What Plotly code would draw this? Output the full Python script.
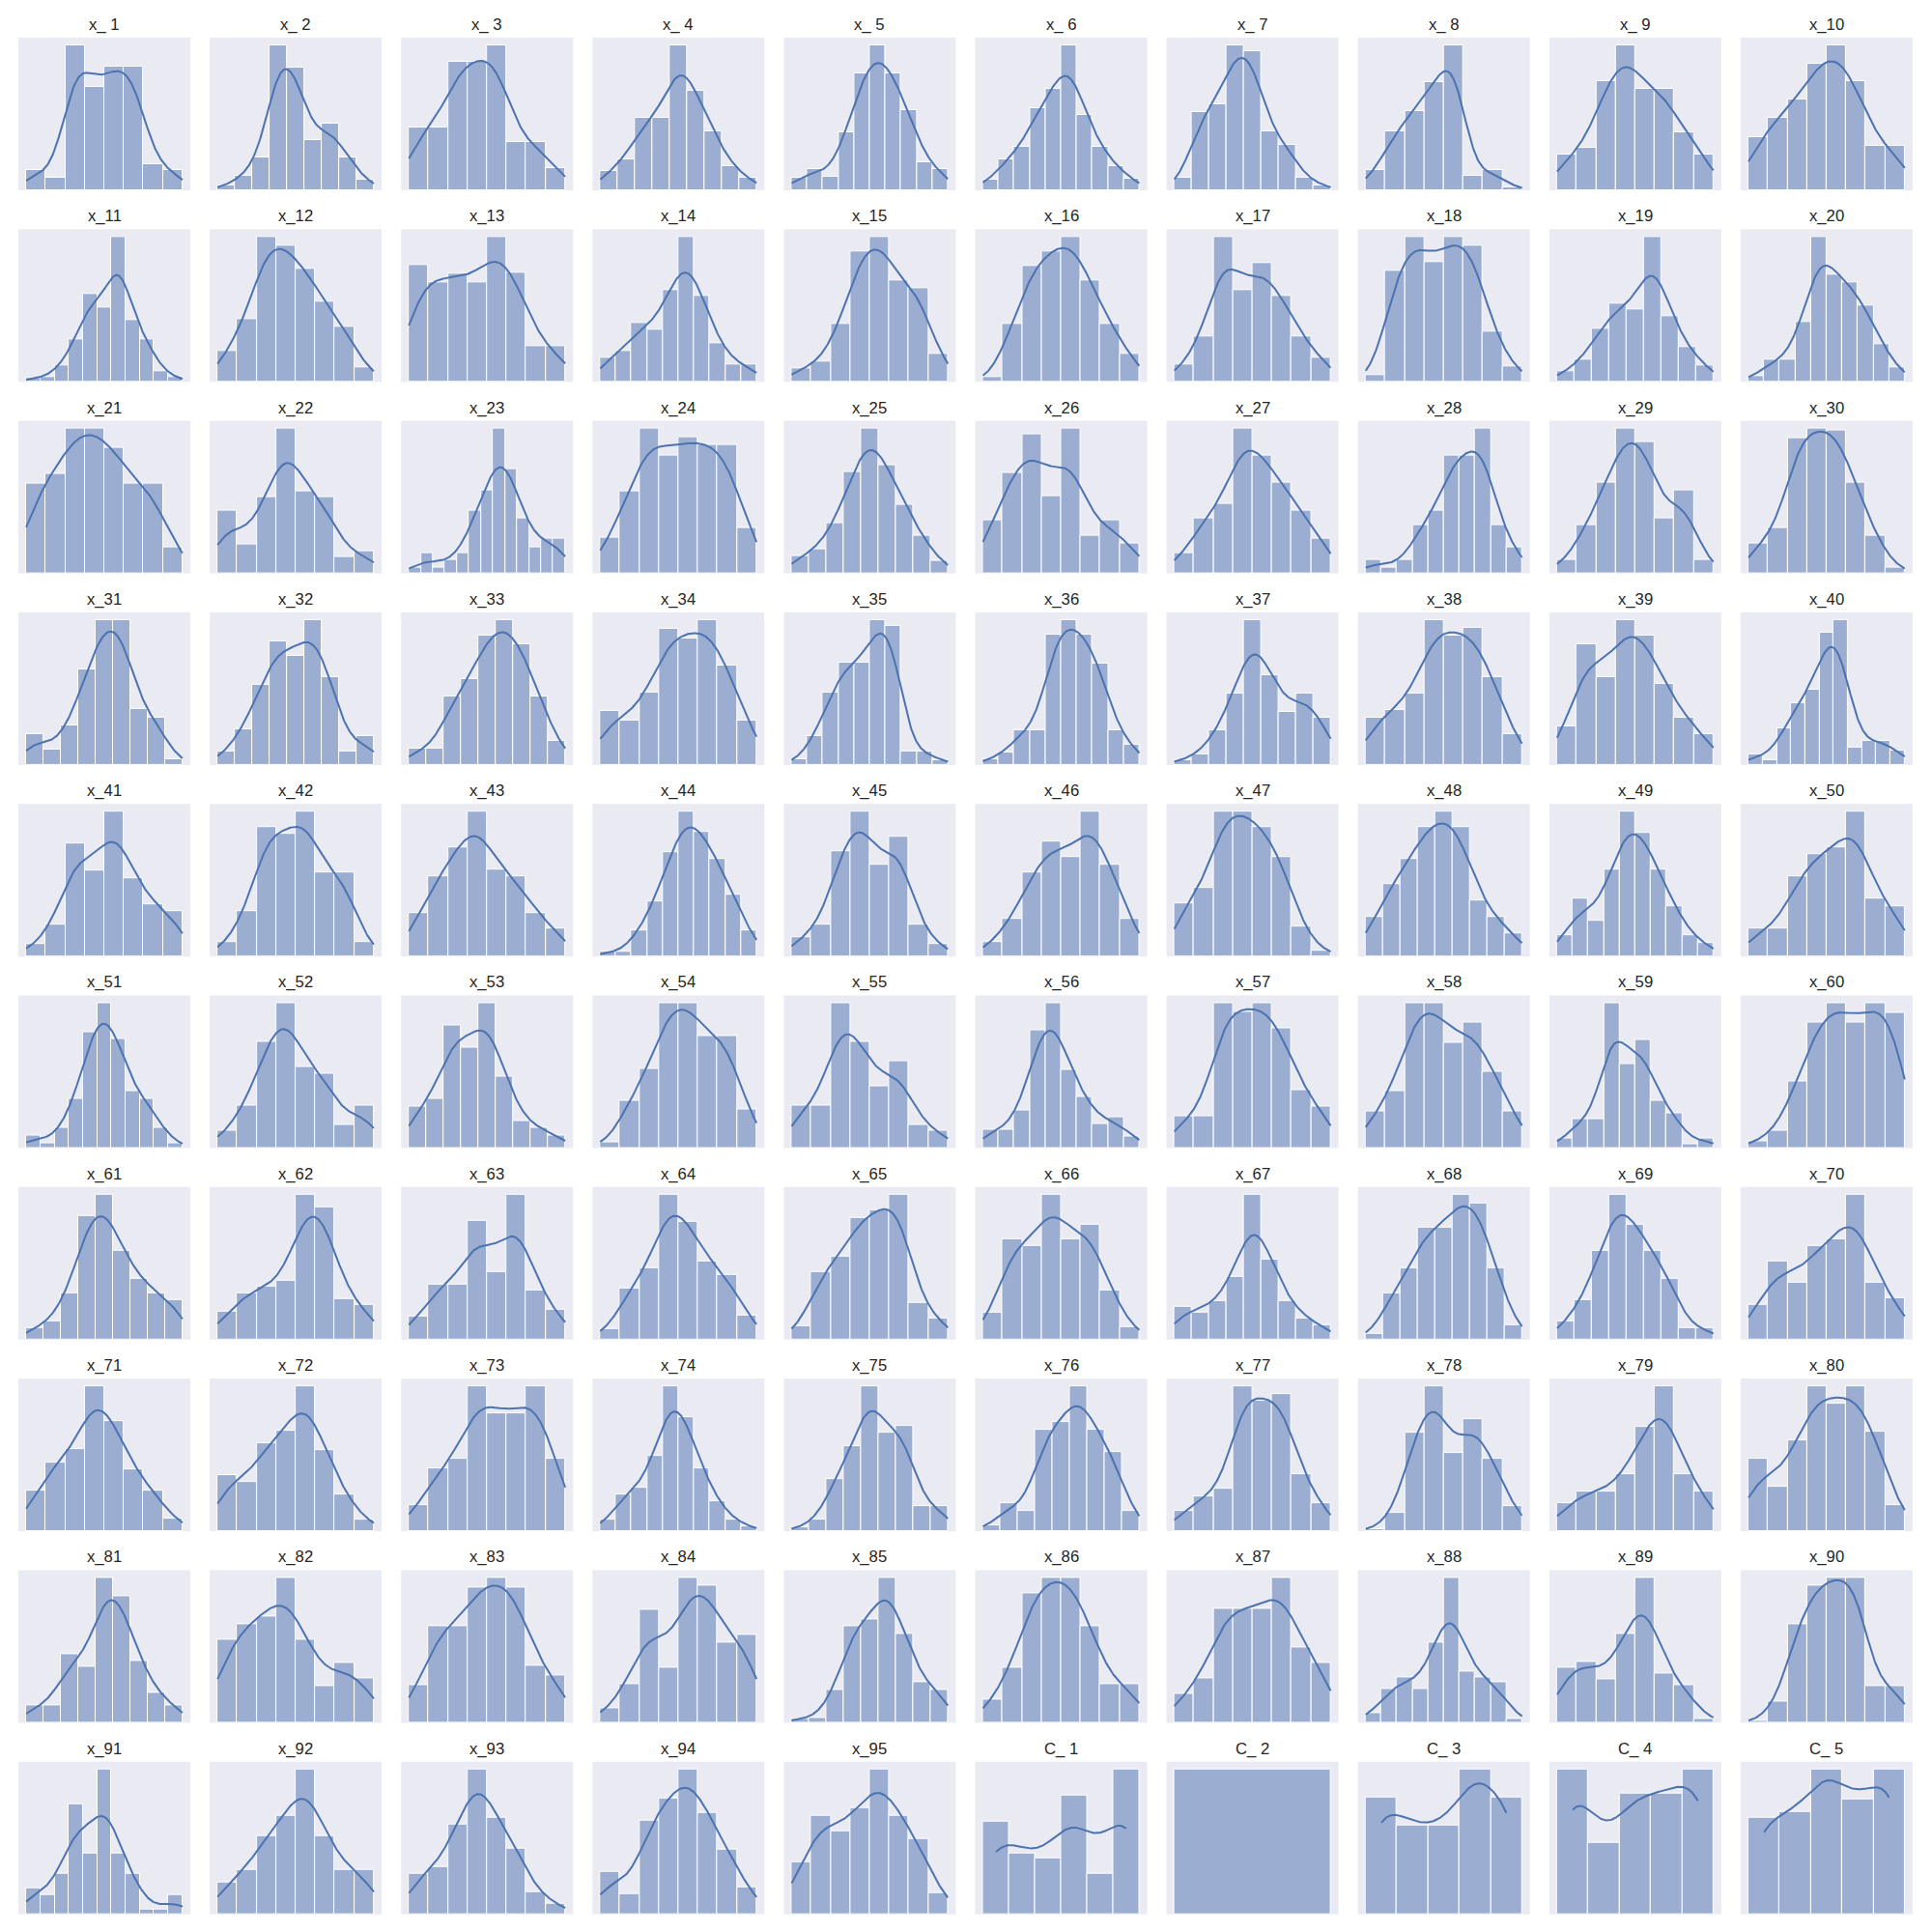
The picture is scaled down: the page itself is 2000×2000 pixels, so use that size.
import math
import numpy as np
import plotly.graph_objects as go

# ---- bar heights (relative counts per bin) ----
x_1 = [62, 38, 452, 322, 386, 386, 82, 62]
x_2 = [14, 46, 101, 452, 382, 155, 206, 101, 32]
x_3 = [196, 196, 400, 400, 452, 149, 149, 70]
x_4 = [59, 97, 224, 224, 452, 308, 182, 76, 38]
x_5 = [40, 65, 41, 179, 362, 452, 362, 248, 86, 65]
x_6 = [34, 95, 134, 254, 314, 452, 233, 134, 75, 35]
x_7 = [38, 244, 266, 452, 432, 182, 141, 38, 16]
x_8 = [62, 182, 247, 335, 452, 46, 62, 10]
x_9 = [110, 132, 338, 452, 314, 314, 179, 110]
x_10 = [166, 224, 281, 395, 452, 338, 137, 137]
x_11 = [12, 14, 52, 132, 272, 232, 452, 192, 132, 34, 14]
x_12 = [95, 196, 452, 424, 350, 248, 172, 46]
x_13 = [364, 308, 336, 308, 452, 338, 110, 110]
x_14 = [76, 97, 182, 162, 284, 452, 266, 119, 55, 55]
x_15 = [41, 62, 179, 407, 452, 314, 292, 86]
x_16 = [16, 179, 359, 407, 452, 314, 179, 86]
x_17 = [55, 140, 452, 284, 368, 266, 140, 76]
x_18 = [22, 344, 452, 372, 452, 424, 155, 49]
x_19 = [32, 70, 166, 242, 224, 452, 203, 107, 52]
x_20 = [19, 68, 68, 187, 452, 332, 308, 236, 116, 44]
x_21 = [278, 308, 452, 452, 392, 278, 278, 82]
x_22 = [196, 89, 236, 452, 254, 236, 52, 70]
x_23 = [19, 62, 19, 41, 62, 194, 257, 452, 324, 170, 82, 107, 107]
x_24 = [110, 254, 452, 367, 424, 399, 399, 140]
x_25 = [55, 76, 155, 314, 452, 335, 214, 116, 38]
x_26 = [164, 312, 432, 240, 452, 116, 164, 92]
x_27 = [62, 170, 216, 452, 367, 281, 194, 107]
x_28 = [41, 19, 41, 149, 194, 367, 367, 452, 149, 82]
x_29 = [41, 149, 281, 452, 410, 170, 257, 41]
x_30 = [92, 140, 422, 452, 446, 281, 116, 19]
x_31 = [95, 46, 122, 292, 444, 444, 170, 146, 19]
x_32 = [41, 110, 248, 386, 338, 452, 272, 41, 89]
x_33 = [50, 50, 212, 266, 402, 452, 374, 212, 76]
x_34 = [166, 137, 224, 422, 392, 449, 308, 137]
x_35 = [19, 89, 224, 317, 317, 452, 432, 41, 41, 16]
x_36 = [19, 40, 109, 109, 406, 451, 406, 316, 109, 64]
x_37 = [16, 33, 109, 223, 451, 280, 166, 223, 148]
x_38 = [148, 172, 223, 451, 403, 427, 274, 96]
x_39 = [120, 376, 274, 451, 403, 251, 148, 96]
x_40 = [34, 16, 114, 193, 235, 412, 451, 55, 76, 76, 45]
x_41 = [38, 100, 350, 266, 452, 244, 161, 140]
x_42 = [44, 140, 404, 380, 452, 260, 260, 44]
x_43 = [134, 248, 338, 452, 269, 248, 134, 86]
x_44 = [14, 14, 82, 170, 324, 452, 389, 302, 191, 82]
x_45 = [59, 100, 328, 452, 286, 371, 100, 38]
x_46 = [44, 116, 260, 356, 308, 452, 284, 116]
x_47 = [164, 212, 452, 452, 404, 308, 92, 19]
x_48 = [122, 224, 302, 402, 452, 402, 173, 122, 71]
x_49 = [65, 180, 110, 269, 452, 384, 269, 155, 65, 41]
x_50 = [86, 86, 248, 317, 338, 452, 179, 155]
x_51 = [40, 16, 64, 153, 361, 451, 338, 178, 153, 64, 16]
x_52 = [55, 133, 331, 451, 253, 232, 73, 133]
x_53 = [130, 154, 382, 313, 451, 223, 85, 64, 40]
x_54 = [18, 148, 247, 451, 451, 349, 349, 121]
x_55 = [133, 133, 451, 331, 193, 271, 73, 55]
x_56 = [58, 58, 118, 367, 451, 244, 160, 76, 97, 37]
x_57 = [97, 97, 436, 409, 436, 358, 175, 124]
x_58 = [115, 178, 451, 451, 328, 391, 238, 115]
x_59 = [31, 91, 91, 451, 262, 337, 148, 109, 13, 31]
x_60 = [22, 55, 205, 388, 448, 388, 448, 418]
x_61 = [37, 58, 145, 385, 451, 277, 190, 145, 124]
x_62 = [88, 145, 166, 184, 451, 412, 127, 109]
x_63 = [73, 172, 172, 370, 211, 451, 154, 94]
x_64 = [34, 160, 223, 451, 367, 244, 202, 76]
x_65 = [43, 211, 259, 379, 403, 451, 115, 67]
x_66 = [85, 313, 292, 451, 313, 358, 154, 40]
x_67 = [103, 85, 121, 196, 451, 250, 121, 67, 46]
x_68 = [19, 145, 223, 349, 349, 451, 424, 223, 46]
x_69 = [58, 124, 277, 451, 358, 277, 190, 37, 37]
x_70 = [109, 244, 178, 292, 313, 451, 178, 130]
x_71 = [126, 213, 255, 453, 342, 192, 126, 39]
x_72 = [174, 153, 273, 312, 453, 252, 114, 36]
x_73 = [81, 195, 225, 453, 366, 366, 453, 225]
x_74 = [36, 114, 135, 234, 453, 354, 195, 93, 36, 15]
x_75 = [12, 36, 162, 264, 453, 306, 327, 78, 78]
x_76 = [18, 87, 63, 315, 339, 453, 315, 246, 63]
x_77 = [63, 108, 132, 453, 405, 429, 177, 87]
x_78 = [7, 57, 306, 453, 243, 348, 225, 78]
x_79 = [87, 123, 123, 177, 324, 453, 177, 123]
x_80 = [225, 138, 282, 453, 396, 453, 309, 81]
x_81 = [55, 55, 214, 175, 451, 394, 193, 94, 55]
x_82 = [259, 307, 331, 451, 259, 115, 187, 139]
x_83 = [118, 301, 301, 421, 451, 421, 178, 148]
x_84 = [46, 121, 352, 172, 451, 427, 250, 274]
x_85 = [13, 16, 103, 301, 322, 451, 277, 127, 103]
x_86 = [73, 172, 403, 451, 451, 301, 121, 121]
x_87 = [91, 139, 355, 355, 355, 451, 235, 187]
x_88 = [31, 106, 142, 106, 250, 451, 160, 142, 125, 13]
x_89 = [172, 190, 136, 277, 451, 154, 118, 13]
x_90 = [7, 67, 307, 427, 451, 451, 115, 115]
x_91 = [82, 61, 127, 343, 190, 451, 190, 127, 16, 16, 61]
x_92 = [100, 139, 244, 307, 451, 244, 139, 139]
x_93 = [127, 148, 280, 451, 301, 205, 70, 34]
x_94 = [133, 64, 292, 361, 451, 316, 202, 85]
x_95 = [163, 307, 259, 331, 451, 307, 235, 67]
C_1 = [289, 190, 175, 370, 127, 451]
C_2 = [451]
C_3 = [364, 277, 277, 451, 364]
C_4 = [451, 223, 376, 376, 451]
C_5 = [301, 319, 451, 358, 451]

x_names = [f"x_{i}" for i in range(1, 96)]
c_names = [f"C_{i}" for i in range(1, 6)]
titles = [f"x_{i:2d}" for i in range(1, 96)] + [f"C_{i:2d}" for i in range(1, 6)]
series = [globals()[n] for n in x_names + c_names]
discrete = [False] * 95 + [True] * 5

N_SAMPLES = 70
BAR_FILL = "rgba(76,114,176,0.5)"
LINE_COLOR = "#4C72B0"
BG = "#EAEAF2"

_erf = np.vectorize(math.erf)


def Phi(z):
    return 0.5 * (1.0 + _erf(z / math.sqrt(2.0)))


def kde_binned(weights, n_pts=220):
    """Gaussian KDE of a histogram (uniform mass inside each unit-width bin)."""
    w = np.asarray(weights, float)
    k = len(w)
    tot = w.sum()
    p = w / tot
    c = np.arange(k) + 0.5
    mu = (p * c).sum()
    var = (p * (c - mu) ** 2).sum() - 1.0 / 12.0
    h = math.sqrt(max(var, 1e-6)) * N_SAMPLES ** (-0.2)
    g = np.linspace(0.0, float(k), n_pts)
    a = np.arange(k, dtype=float)
    b = a + 1.0
    dens = (p[None, :] * (Phi((g[:, None] - a[None, :]) / h) - Phi((g[:, None] - b[None, :]) / h))).sum(1)
    return g, dens * tot


def kde_discrete(weights, n_pts=220):
    w = np.asarray(weights, float)
    k = len(w)
    tot = w.sum()
    p = w / tot
    c = np.arange(k, dtype=float)
    mu = (p * c).sum()
    sd = math.sqrt((p * (c - mu) ** 2).sum())
    if sd == 0:
        return None, None
    h = sd * N_SAMPLES ** (-0.2)
    g = np.linspace(0.0, float(k - 1), n_pts)
    dens = (p[None, :] * np.exp(-0.5 * ((g[:, None] - c[None, :]) / h) ** 2)).sum(1) / (h * math.sqrt(2 * math.pi))
    return g, dens * tot


fig = go.Figure()
layout = dict(
    width=2000, height=2000, margin=dict(l=0, r=0, t=0, b=0),
    paper_bgcolor="white", plot_bgcolor=BG, showlegend=False, bargap=0,
)
annotations = []

W = 2000.0
for i, (vals, disc, ttl) in enumerate(zip(series, discrete, titles)):
    r, cidx = divmod(i, 10)
    k = len(vals)
    if disc:
        centers = np.arange(k, dtype=float)
        lo_b, hi_b = -0.5, k - 0.5
        g, ky = kde_discrete(vals)
    else:
        centers = np.arange(k, dtype=float) + 0.5
        lo_b, hi_b = 0.0, float(k)
        g, ky = kde_binned(vals)
    span = hi_b - lo_b
    ymax = max(vals)
    if ky is not None:
        ymax = max(ymax, ky.max())
    sfx = "" if i == 0 else str(i + 1)
    xa, ya = "x" + sfx, "y" + sfx
    fig.add_trace(go.Bar(
        x=centers, y=vals, width=1.0, xaxis=xa, yaxis=ya,
        marker=dict(color=BAR_FILL, line=dict(color="white", width=1)),
        hoverinfo="skip", showlegend=False,
    ))
    if ky is not None:
        fig.add_trace(go.Scatter(
            x=g, y=ky, mode="lines", xaxis=xa, yaxis=ya,
            line=dict(color=LINE_COLOR, width=2), hoverinfo="skip", showlegend=False,
        ))
    left = 19 + cidx * 198.1
    top = 39 + r * 198.3
    xd = [left / W, (left + 178) / W]
    yd = [1 - (top + 158) / W, 1 - top / W]
    layout["xaxis" + sfx] = dict(
        domain=xd, anchor=ya, range=[lo_b - 0.05 * span, hi_b + 0.05 * span],
        showgrid=False, zeroline=False, showticklabels=False, ticks="", showline=False,
    )
    layout["yaxis" + sfx] = dict(
        domain=yd, anchor=xa, range=[0, ymax * 1.05],
        showgrid=False, zeroline=False, showticklabels=False, ticks="", showline=False,
    )
    annotations.append(dict(
        text=ttl, x=(xd[0] + xd[1]) / 2, y=1 - (top - 13.5) / W,
        xref="paper", yref="paper", xanchor="center", yanchor="middle",
        showarrow=False, font=dict(family="Liberation Sans, Arial, sans-serif", size=16.7, color="#262626"),
    ))

layout["annotations"] = annotations
fig.update_layout(**layout)
fig.write_html("out.html")
